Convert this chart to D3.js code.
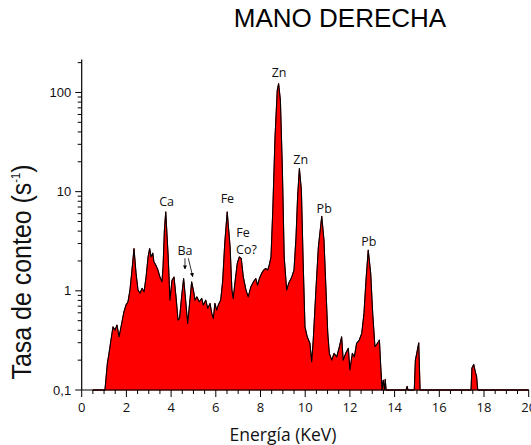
<!DOCTYPE html>
<html><head><meta charset="utf-8">
<script src="https://d3js.org/d3.v7.min.js"></script>
<style>body{margin:0;background:#fff;}svg{display:block;}</style>
</head><body>
<script>
const energy = [0.5,1.04,1.15,1.21,1.31,1.40,1.49,1.58,1.67,1.76,1.89,1.98,2.07,2.16,2.25,2.34,2.43,2.52,2.61,2.70,2.79,2.88,2.97,3.04,3.10,3.18,3.23,3.32,3.41,3.50,3.59,3.64,3.70,3.76,3.87,3.95,4.04,4.13,4.22,4.31,4.38,4.47,4.56,4.65,4.74,4.83,4.92,5.01,5.07,5.15,5.26,5.37,5.44,5.55,5.64,5.74,5.82,5.89,5.96,6.04,6.11,6.22,6.31,6.40,6.51,6.64,6.72,6.78,6.87,6.96,7.05,7.14,7.23,7.35,7.45,7.57,7.68,7.79,7.87,7.95,8.05,8.14,8.23,8.32,8.39,8.47,8.55,8.65,8.75,8.81,8.89,8.98,9.06,9.17,9.26,9.40,9.50,9.59,9.66,9.74,9.83,9.91,9.99,10.09,10.21,10.29,10.36,10.48,10.59,10.74,10.84,10.93,11.01,11.08,11.19,11.29,11.41,11.53,11.63,11.70,11.81,11.93,12.00,12.11,12.20,12.30,12.42,12.53,12.63,12.72,12.82,12.93,13.02,13.12,13.23,13.32,13.38,13.44,13.49,13.55,13.58,13.62,14.51,14.56,14.60,14.88,14.93,14.99,15.08,15.14,17.42,17.46,17.54,17.61,17.67,17.72,20];
const counts = [0.1,0.1,0.187,0.225,0.319,0.434,0.402,0.452,0.344,0.434,0.615,0.718,0.775,1.02,1.62,2.67,1.51,1.02,0.948,1.06,0.977,1.38,2.20,2.67,2.20,2.40,1.96,1.81,1.62,1.38,1.23,1.74,4.08,6.25,2.20,0.806,1.28,1.38,0.870,0.507,0.531,0.870,1.33,0.806,0.470,0.752,1.23,0.977,0.806,0.870,0.775,0.838,0.718,0.806,0.665,0.747,0.592,0.527,0.747,0.639,0.718,0.806,1.28,3.00,6.25,2.77,1.02,0.838,1.28,1.89,2.20,2.12,1.38,1.02,0.870,1.10,1.23,1.33,1.14,1.33,1.50,1.62,1.68,1.62,1.81,2.20,6.50,35.6,105,123,83.3,16.4,2.20,1.02,1.19,1.38,1.62,3.50,8.85,17.1,10.3,1.89,0.434,0.344,0.297,0.193,0.319,1.02,2.77,5.65,3.24,1.02,0.372,0.234,0.200,0.234,0.216,0.273,0.344,0.200,0.234,0.263,0.159,0.234,0.216,0.295,0.319,0.372,0.592,1.28,2.57,1.50,0.592,0.273,0.295,0.319,0.172,0.1,0.126,0.1,0.128,0.1,0.1,0.109,0.1,0.1,0.200,0.234,0.299,0.1,0.1,0.167,0.181,0.153,0.136,0.1,0.1];

const xTicksMajor = [0,2,4,6,8,10,12,14,16,18,20];
const yTicksMajor = [0.1,1,10,100];
const yTickLabels = ["0,1","1","10","100"];

const peakNames = ["Zn","Zn","Ca","Fe","Fe","Co?","Ba","Pb","Pb"];
const peakE     = [8.83,9.80,3.80,6.52,7.22,7.37,4.62,10.85,12.85];
const peakV     = [143,19.0,7.16,7.67,3.52,2.37,2.30,6.10,2.80];

const W = 531, H = 445;
const svg = d3.select("body").append("svg").attr("width", W).attr("height", H);

const x = d3.scaleLinear().domain([0, 20]).range([81.7, 528.7]);
const y = d3.scaleLog().domain([0.1, 215]).range([390, 59.5]);

const data = energy.map((e, i) => ({e, v: counts[i]}));

// area
const area = d3.area().x(d => x(d.e)).y0(y(0.1)).y1(d => y(d.v));
svg.append("path").datum(data).attr("d", area)
  .attr("fill", "#ff0000").attr("stroke", "#c00000").attr("stroke-width", 1);
const line = d3.line().x(d => x(d.e)).y(d => y(d.v));
svg.append("path").datum(data).attr("d", line)
  .attr("fill", "none").attr("stroke", "#000").attr("stroke-width", 1.1).attr("stroke-linejoin","round");

// x axis
const xMinor = d3.range(0, 20.01, 0.5).filter(t => t % 2 !== 0);
const gx = svg.append("g").attr("transform", `translate(0,${y(0.1)})`);
gx.append("line").attr("x1", x(0)).attr("x2", x(20)).attr("stroke", "#000").attr("stroke-width", 1.2);
gx.selectAll("line.mn").data(xMinor).enter().append("line")
  .attr("x1", d => x(d)).attr("x2", d => x(d)).attr("y1", 0).attr("y2", 4).attr("stroke", "#000");
gx.selectAll("line.mj").data(xTicksMajor).enter().append("line")
  .attr("x1", d => x(d)).attr("x2", d => x(d)).attr("y1", 0).attr("y2", 7).attr("stroke", "#000");
gx.selectAll("text").data(xTicksMajor).enter().append("text")
  .attr("x", d => x(d)).attr("y", 21.5).attr("text-anchor", "middle")
  .attr("font-family", "Open Sans, sans-serif").attr("font-size", 13).attr("fill", "#111")
  .text(d => d);

// y axis
const yMinor = [];
[0.1, 1, 10, 100].forEach(dec => { for (let k = 2; k <= 9; k++) { const v = dec * k; if (v <= 215) yMinor.push(v); } });
const gy = svg.append("g").attr("transform", `translate(${x(0)},0)`);
gy.append("line").attr("y1", y(0.1)).attr("y2", y(215)).attr("stroke", "#000").attr("stroke-width", 1.2);
gy.selectAll("line.mn").data(yMinor).enter().append("line")
  .attr("y1", d => y(d)).attr("y2", d => y(d)).attr("x1", -4).attr("x2", 0).attr("stroke", "#000");
gy.selectAll("line.mj").data(yTicksMajor).enter().append("line")
  .attr("y1", d => y(d)).attr("y2", d => y(d)).attr("x1", -6.5).attr("x2", 0).attr("stroke", "#000");
gy.selectAll("text").data(yTicksMajor).enter().append("text")
  .attr("x", -10.5).attr("y", d => y(d)).attr("dy", "0.35em").attr("text-anchor", "end")
  .attr("font-family", "Liberation Sans, Arial, sans-serif").attr("font-size", 13).attr("fill", "#111")
  .text((d, i) => yTickLabels[i]);

// axis titles
svg.append("text").attr("x", 283).attr("y", 441).attr("text-anchor", "middle")
  .attr("font-family", "Open Sans, sans-serif").attr("font-size", 17.5).attr("fill", "#111")
  .text("Energía (KeV)");
const yt = svg.append("text").attr("transform", "translate(31,272) rotate(-90)")
  .attr("text-anchor", "middle").attr("font-family", "Liberation Sans, Arial, sans-serif")
  .attr("font-size", 27).attr("fill", "#111")
  .attr("textLength", 215).attr("lengthAdjust", "spacingAndGlyphs");
yt.append("tspan").text("Tasa de conteo (s");
yt.append("tspan").attr("font-size", 12).attr("dy", -11).text("-1");
yt.append("tspan").attr("dy", 11).text(")");

// title
svg.append("text").attr("x", 340).attr("y", 26.5).attr("text-anchor", "middle")
  .attr("font-family", "Liberation Sans, Arial, sans-serif").attr("font-size", 26).attr("fill", "#000")
  .text("MANO DERECHA");

// peak labels
svg.selectAll("text.pk").data(peakNames).enter().append("text").attr("class", "pk")
  .attr("x", (d, i) => x(peakE[i])).attr("y", (d, i) => y(peakV[i]))
  .attr("text-anchor", "middle").attr("font-family", "Open Sans, sans-serif")
  .attr("font-size", 12.5).attr("fill", "#111").text(d => d);

// Ba arrows
const defs = svg.append("defs");
defs.append("marker").attr("id", "ah").attr("viewBox", "0 0 10 10").attr("refX", 9).attr("refY", 5)
  .attr("markerWidth", 5).attr("markerHeight", 5).attr("orient", "auto")
  .append("path").attr("d", "M0,0L10,5L0,10z").attr("fill", "#000");
const arrowsFrom = [[4.62, 2.13], [4.77, 2.13]];
const arrowsTo = [[4.62, 1.66], [4.97, 1.39]];
arrowsFrom.forEach((f, i) => {
  svg.append("line").attr("x1", x(f[0])).attr("y1", y(f[1])).attr("x2", x(arrowsTo[i][0])).attr("y2", y(arrowsTo[i][1]))
    .attr("stroke", "#000").attr("stroke-width", 0.8).attr("marker-end", "url(#ah)");
});
</script>
</body></html>
